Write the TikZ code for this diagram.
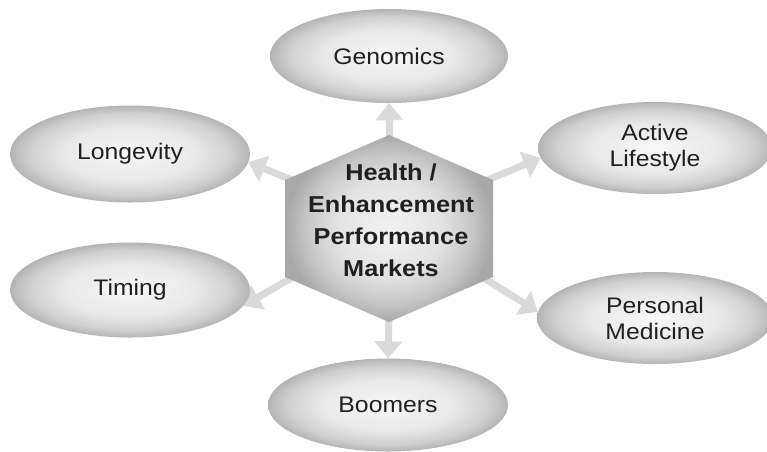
\documentclass[tikz,border=0pt]{standalone}
\usepackage{fontspec}
\setmainfont{Liberation Sans}[FakeStretch=1.1]
\usetikzlibrary{shapes.geometric,arrows.meta}
\pgfdeclarelayer{arr}
\pgfdeclarelayer{hex}
\pgfsetlayers{arr,hex,main}
\definecolor{edgegray}{RGB}{180,180,180}
\definecolor{outgray}{RGB}{208,208,208}
\definecolor{midgray}{RGB}{232,232,232}
\definecolor{centergray}{RGB}{248,248,248}
\definecolor{hexedge}{RGB}{168,168,168}
\definecolor{hexout}{RGB}{198,198,198}
\definecolor{hexmid}{RGB}{226,226,226}
\definecolor{hexcenter}{RGB}{243,243,243}
\definecolor{arrowgray}{RGB}{218,218,218}
\definecolor{txt}{RGB}{32,32,32}
\pgfdeclareradialshading{bubshade}{\pgfpointorigin}{color(0bp)=(centergray); color(14bp)=(midgray); color(21bp)=(outgray); color(25bp)=(edgegray); color(50bp)=(edgegray)}
\pgfdeclareradialshading{hexshade}{\pgfpointorigin}{color(0bp)=(hexcenter); color(13bp)=(hexmid); color(20bp)=(hexout); color(25bp)=(hexedge); color(50bp)=(hexedge)}
\begin{document}
\begin{tikzpicture}[x=1pt,y=-1pt,
  bubble/.style={ellipse, inner sep=0pt, minimum width=238pt, minimum height=94pt,
    shading=bubshade, text=txt, align=center,
    font=\fontsize{22.5}{26}\selectfont},
  hubtext/.style={align=center, text=txt, inner sep=0pt,
    font=\bfseries\fontsize{23}{32}\selectfont},
  link/.style={draw=arrowgray, line width=7pt, -{Triangle[width=27pt,length=17pt]}},
]
\useasboundingbox (0,0) rectangle (767,451);
\node[bubble] (gen) at (389,56) {Genomics};
\node[bubble, minimum width=240pt, minimum height=97pt] (lon) at (130,154) {Longevity};
\node[bubble, minimum width=234pt, minimum height=92pt] (act) at (655,148) {Active\\Lifestyle};
\node[bubble, minimum width=236pt, minimum height=92pt] (per) at (655,318) {Personal\\Medicine};
\node[bubble, minimum width=240pt, minimum height=95pt] (tim) at (130,290) {Timing};
\node[bubble, minimum width=240pt, minimum height=93pt] (boo) at (388,405) {Boomers};
\node[hubtext] (hub) at (391,220) {Health /\\Enhancement\\Performance\\Markets};
\begin{pgfonlayer}{hex}
\shade[shading=hexshade]
  (389,135) -- (493,180) -- (493,277) -- (389,322) -- (285,277) -- (285,180) -- cycle;
\end{pgfonlayer}
\begin{pgfonlayer}{arr}
\draw[link] (hub.center) -- (gen.south);
\draw[link] (hub.center) -- (boo.north);
\draw[link] (hub.center) -- (lon.-4.5);
\draw[link] (hub.center) -- (act.185);
\draw[link] (hub.center) -- (per.177.4);
\draw[link] (hub.center) -- (tim.-8);
\end{pgfonlayer}
\end{tikzpicture}
\end{document}
